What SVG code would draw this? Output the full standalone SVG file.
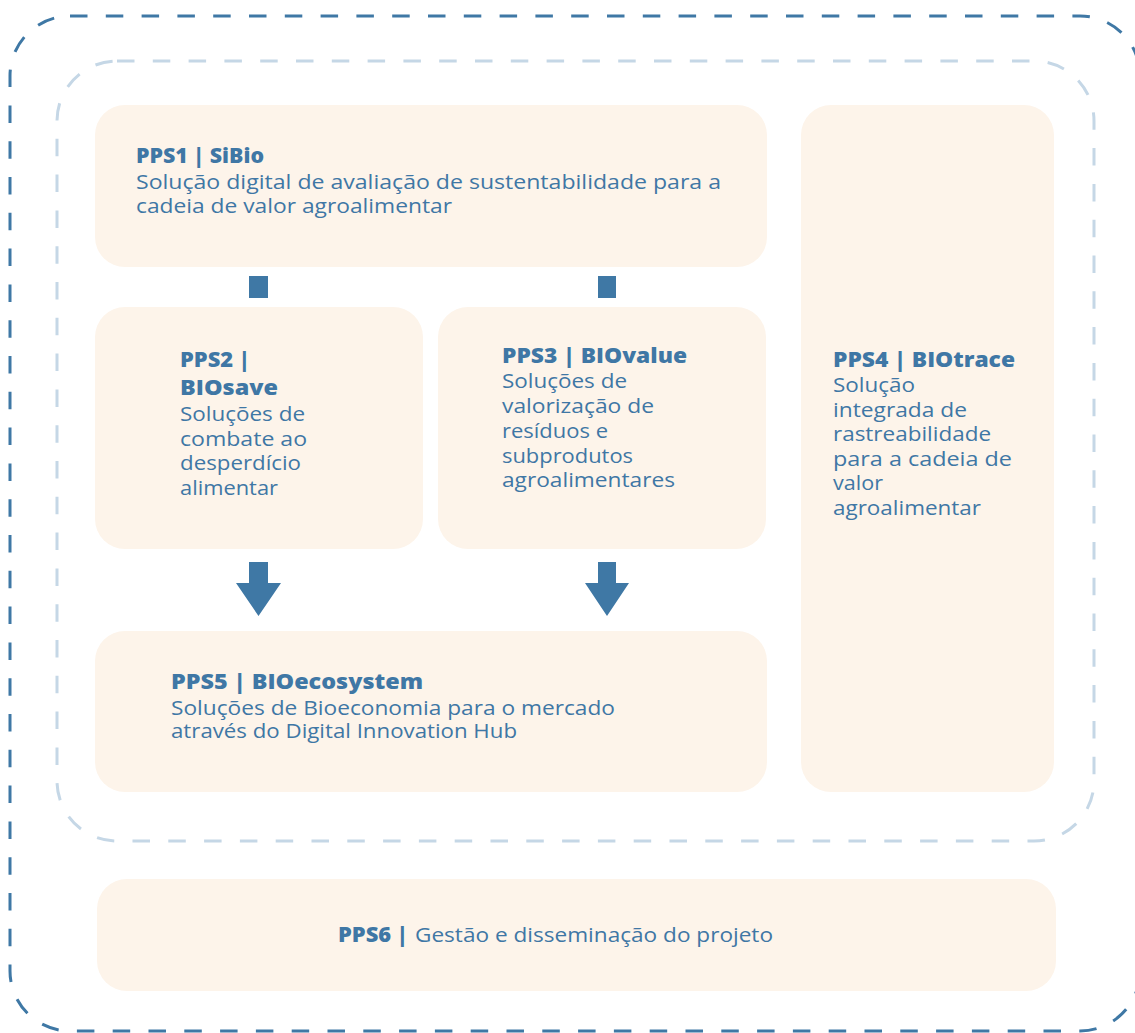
<svg xmlns="http://www.w3.org/2000/svg" width="1135" height="1033" viewBox="0 0 1135 1033">
<style>
.box{fill:#fdf4ea}
.t{font-family:'Open Sans','Noto Sans',sans-serif;font-weight:800;font-size:21px;fill:#3f77a5}
.b{font-family:'Open Sans','Noto Sans',sans-serif;font-weight:400;font-size:19.5px;fill:#3f77a5}
.con{fill:#3f78a5}
</style>
<rect width="1135" height="1033" fill="#ffffff"/>
<g id="outer-frame"><rect x="10" y="16" width="1130" height="1015" rx="60" fill="none" stroke="#3f78a5" stroke-width="3" stroke-dasharray="17.5 18.3"/></g>
<g id="inner-frame"><rect x="57" y="61" width="1037" height="780" rx="60" fill="none" stroke="#c5d7e6" stroke-width="3" stroke-dasharray="17.5 18.3"/></g>
<g id="pps1">
<rect class="box" x="95" y="105" width="672" height="162" rx="30"/>
<text class="t" x="136" y="163" textLength="128" lengthAdjust="spacingAndGlyphs">PPS1 | SiBio</text>
<text class="b" x="136" y="189" textLength="585" lengthAdjust="spacingAndGlyphs">Solução digital de avaliação de sustentabilidade para a</text>
<text class="b" x="136" y="213" textLength="316" lengthAdjust="spacingAndGlyphs">cadeia de valor agroalimentar</text>
</g>
<g id="pps2">
<rect class="box" x="95" y="307" width="328" height="242" rx="30"/>
<text class="t" x="180" y="367" textLength="70" lengthAdjust="spacingAndGlyphs">PPS2 |</text>
<text class="t" x="180" y="395" textLength="98" lengthAdjust="spacingAndGlyphs">BIOsave</text>
<text class="b" x="180" y="421" textLength="125" lengthAdjust="spacingAndGlyphs">Soluções de</text>
<text class="b" x="180" y="446" textLength="127" lengthAdjust="spacingAndGlyphs">combate ao</text>
<text class="b" x="180" y="470" textLength="121" lengthAdjust="spacingAndGlyphs">desperdício</text>
<text class="b" x="180" y="495" textLength="98" lengthAdjust="spacingAndGlyphs">alimentar</text>
</g>
<g id="pps3">
<rect class="box" x="438" y="307" width="328" height="242" rx="30"/>
<text class="t" x="502" y="363" textLength="185" lengthAdjust="spacingAndGlyphs">PPS3 | BIOvalue</text>
<text class="b" x="502" y="388" textLength="125" lengthAdjust="spacingAndGlyphs">Soluções de</text>
<text class="b" x="502" y="413" textLength="152" lengthAdjust="spacingAndGlyphs">valorização de</text>
<text class="b" x="502" y="438" textLength="106" lengthAdjust="spacingAndGlyphs">resíduos e</text>
<text class="b" x="502" y="463" textLength="131" lengthAdjust="spacingAndGlyphs">subprodutos</text>
<text class="b" x="502" y="487" textLength="173" lengthAdjust="spacingAndGlyphs">agroalimentares</text>
</g>
<g id="pps4">
<rect class="box" x="801" y="105" width="253" height="687" rx="30"/>
<text class="t" x="833" y="367" textLength="182" lengthAdjust="spacingAndGlyphs">PPS4 | BIOtrace</text>
<text class="b" x="833" y="392" textLength="82" lengthAdjust="spacingAndGlyphs">Solução</text>
<text class="b" x="833" y="417" textLength="134" lengthAdjust="spacingAndGlyphs">integrada de</text>
<text class="b" x="833" y="441" textLength="158" lengthAdjust="spacingAndGlyphs">rastreabilidade</text>
<text class="b" x="833" y="466" textLength="179" lengthAdjust="spacingAndGlyphs">para a cadeia de</text>
<text class="b" x="833" y="490" textLength="50" lengthAdjust="spacingAndGlyphs">valor</text>
<text class="b" x="833" y="515" textLength="148" lengthAdjust="spacingAndGlyphs">agroalimentar</text>
</g>
<g id="pps5">
<rect class="box" x="95" y="631" width="672" height="161" rx="30"/>
<text class="t" x="171" y="689" textLength="252" lengthAdjust="spacingAndGlyphs">PPS5 | BIOecosystem</text>
<text class="b" x="171" y="715" textLength="444" lengthAdjust="spacingAndGlyphs">Soluções de Bioeconomia para o mercado</text>
<text class="b" x="171" y="738" textLength="346" lengthAdjust="spacingAndGlyphs">através do Digital Innovation Hub</text>
</g>
<g id="pps6">
<rect class="box" x="97" y="879" width="959" height="112" rx="30"/>
<text class="t" x="338" y="942" textLength="70" lengthAdjust="spacingAndGlyphs">PPS6 |</text>
<text class="b" x="415" y="942" textLength="358" lengthAdjust="spacingAndGlyphs">Gestão e disseminação do projeto</text>
</g>
<g id="connectors">
<rect class="con" x="249" y="276" width="19" height="22"/>
<rect class="con" x="598" y="276" width="18" height="22"/>
<path class="con" d="M249,562 H268 V583 H281 L258.5,616 L236,583 H249 Z"/>
<path class="con" d="M598,562 H616 V583 H629 L607,616 L585,583 H598 Z"/>
</g>
</svg>
